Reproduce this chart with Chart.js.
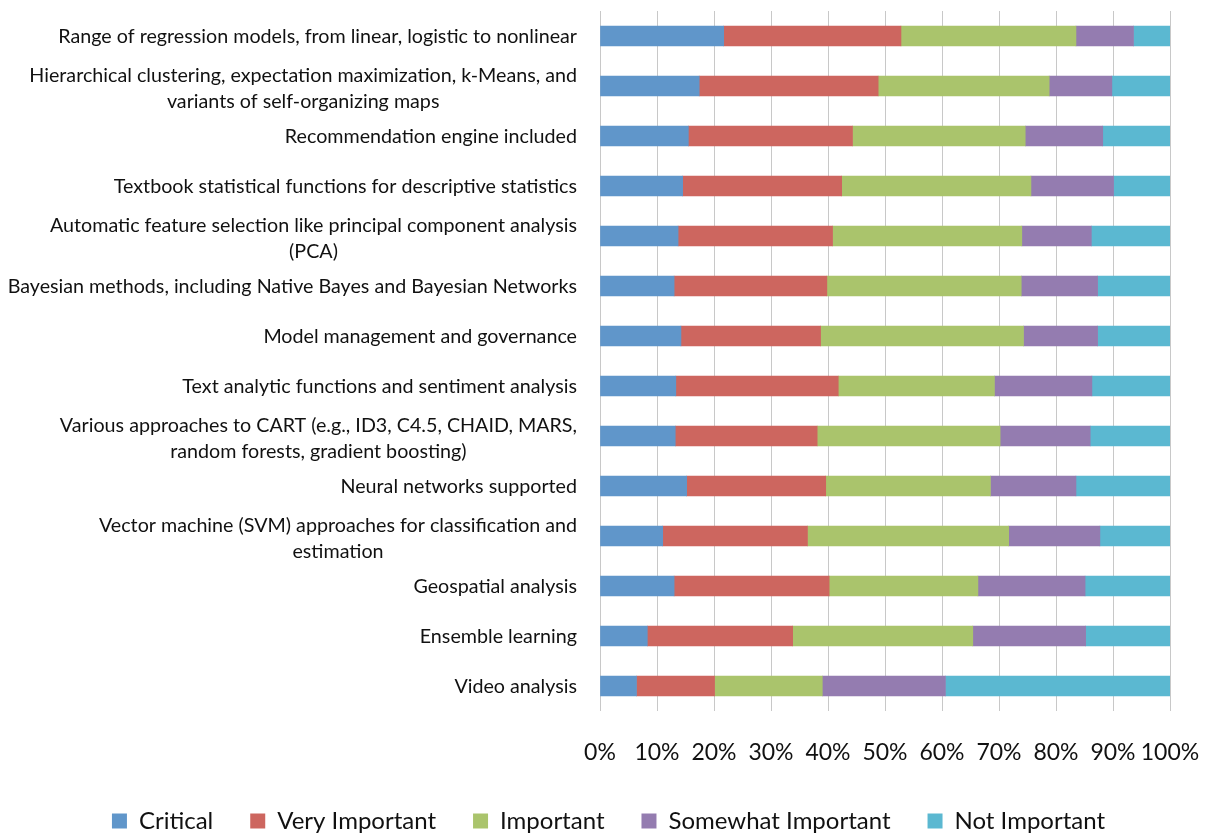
<!DOCTYPE html>
<html>

<head>
    <meta charset="utf-8">
    <title>Analytics Features Importance</title>
    <script src="https://cdn.jsdelivr.net/npm/chart.js@4.4.6/dist/chart.umd.min.js"></script>
    <style>
        html, body { margin: 0; padding: 0; background: #fff; }
        #wrap { width: 1207px; height: 833px; position: relative; }
    </style>
</head>

<body>
    <div id="wrap">
        <canvas id="myChart"></canvas>
    </div>
    <script>
        const categories = [
            "Range of regression models, from linear, logistic to nonlinear",
            ["Hierarchical clustering, expectation maximization, k-Means, and", "variants of self-organizing maps"],
            "Recommendation engine included",
            "Textbook statistical functions for descriptive statistics",
            ["Automatic feature selection like principal component analysis", "(PCA)"],
            "Bayesian methods, including Native Bayes and Bayesian Networks",
            "Model management and governance",
            "Text analytic functions and sentiment analysis",
            ["Various approaches to CART (e.g., ID3, C4.5, CHAID, MARS,", "random forests, gradient boosting)"],
            "Neural networks supported",
            ["Vector machine (SVM) approaches for classification and", "estimation"],
            "Geospatial analysis",
            "Ensemble learning",
            "Video analysis",
        ]
        // shares in percent, one value per category
        const critical = [21.7, 17.4, 15.5, 14.5, 13.7, 13.0, 14.2, 13.3, 13.2, 15.2, 11.0, 13.0, 8.3, 6.4]
        const veryImportant = [31.1, 31.4, 28.8, 27.9, 27.1, 26.8, 24.5, 28.5, 24.9, 24.4, 25.4, 27.2, 25.5, 13.7]
        const important = [30.7, 30.0, 30.3, 33.2, 33.2, 34.1, 35.6, 27.4, 32.1, 28.9, 35.3, 26.1, 31.6, 18.9]
        const somewhatImportant = [10.1, 11.0, 13.6, 14.5, 12.2, 13.4, 13.0, 17.1, 15.8, 15.0, 16.0, 18.8, 19.8, 21.6]
        const notImportant = [6.4, 10.2, 11.8, 9.9, 13.8, 12.7, 12.7, 13.7, 14.0, 16.5, 12.3, 14.9, 14.8, 39.4]
        const xTicks = [0, 10, 20, 30, 40, 50, 60, 70, 80, 90, 100]

        const FONT = "Lato, 'Open Sans', sans-serif"
        const COLORS = {
            blue: "rgb(96, 150, 202)",
            red: "rgb(205, 102, 95)",
            green: "rgb(170, 196, 108)",
            purple: "rgb(148, 124, 176)",
            cyan: "rgb(91, 184, 209)",
        }

        function series(label, data, color) {
            return { label, data, backgroundColor: color, borderWidth: 0, barThickness: 20 }
        }

        // category labels: block right aligned, lines centered inside the block
        const categoryLabels = {
            id: "categoryLabels",
            afterDraw(chart) {
                const ctx = chart.ctx
                const y = chart.scales.y
                const right = chart.chartArea.left - 23
                const lineHeight = 26
                ctx.save()
                ctx.font = "19.7px " + FONT
                ctx.fillStyle = "#111"
                ctx.textBaseline = "middle"
                ctx.textAlign = "center"
                categories.forEach((label, i) => {
                    const lines = Array.isArray(label) ? label : [label]
                    const widest = Math.max(...lines.map(s => ctx.measureText(s).width))
                    const cx = right - widest / 2
                    const cy = y.getPixelForTick(i) + 1
                    const top = cy - (lines.length - 1) * lineHeight / 2 + (lines.length > 1 ? 2 : 0)
                    lines.forEach((s, j) => ctx.fillText(s, cx, top + j * lineHeight))
                })
                ctx.restore()
            },
        }

        const element = document.getElementById("myChart")
        const config = {
            type: "bar",
            data: {
                labels: categories,
                datasets: [
                    series("Critical", critical, COLORS.blue),
                    series("Very Important", veryImportant, COLORS.red),
                    series("Important", important, COLORS.green),
                    series("Somewhat Important", somewhatImportant, COLORS.purple),
                    series("Not Important", notImportant, COLORS.cyan),
                ],
            },
            options: {
                indexAxis: "y",
                responsive: true,
                maintainAspectRatio: false,
                animation: false,
                layout: { padding: { top: 11, right: 37, bottom: -10, left: 47 } },
                scales: {
                    x: {
                        stacked: true,
                        min: 0,
                        max: 100,
                        afterBuildTicks: scale => { scale.ticks = xTicks.map(v => ({ value: v })) },
                        afterFit: scale => {
                            scale.height = 61
                            scale.paddingLeft = 0
                            scale.paddingRight = 0
                        },
                        grid: { color: "#c8c8c8", lineWidth: 1, drawTicks: false },
                        border: { display: false },
                        ticks: {
                            padding: 28,
                            autoSkip: false,
                            color: "#111",
                            font: { family: FONT, size: 23 },
                            maxRotation: 0,
                            callback: v => v + "%",
                        },
                    },
                    y: {
                        stacked: true,
                        grid: { display: false },
                        border: { display: false },
                        ticks: { display: false },
                        afterFit: scale => { scale.width = 553 },
                    },
                },
                plugins: {
                    legend: {
                        position: "bottom",
                        labels: {
                            color: "#111",
                            font: { family: FONT, size: 24 },
                            boxWidth: 15,
                            boxHeight: 15,
                            padding: 37,
                        },
                    },
                    tooltip: { enabled: false },
                },
            },
            plugins: [categoryLabels],
        }
        new Chart(element, config)
    </script>
</body>

</html>
